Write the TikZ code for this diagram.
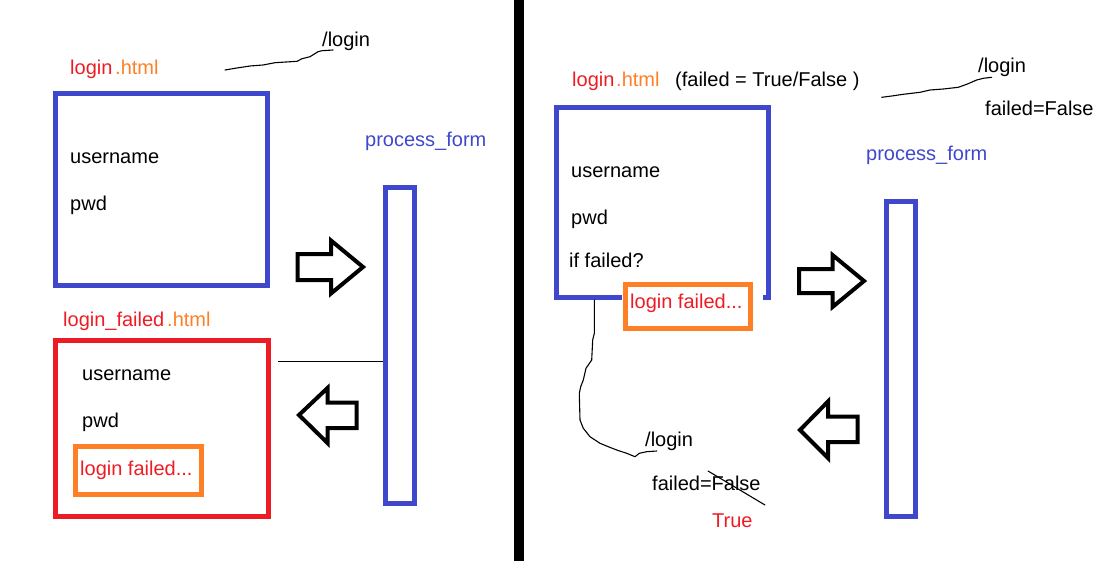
\documentclass[tikz,border=0pt]{standalone}
\usepackage{fontspec}
\setmainfont{Liberation Sans}
\definecolor{pblue}{HTML}{3F48CC}
\definecolor{pred}{HTML}{ED1C24}
\definecolor{porange}{HTML}{FF7F27}
\begin{document}
\begin{tikzpicture}[x=1pt,y=-1pt,
  txt/.style={inner sep=0pt, anchor=base west, font=\fontsize{20}{23}\selectfont},
  boxline/.style={line width=5pt, inner sep=0pt, line join=miter},
  arrowshape/.style={draw=black, line width=4pt, line join=miter},
  scribble/.style={line width=1.1pt, line join=round, line cap=round}]
\useasboundingbox (0,0) rectangle (1120,565);

% ---------------- left half ----------------
\node[txt, text=pred] (lname) at (70,74.5) {login};
\node[txt, text=porange] (lhtml) at (115,74.5) {.html};
\node[txt] (lurl) at (322,46.5) {/login};
\coordinate (lcurveA) at (225,70);
\coordinate (lcurveB) at (333,50);
\draw[scribble] (lcurveA) -- (235,68.3) -- (250,66) -- (263,65) -- (275,62.7) -- (297,61.3) -- (302,58.7) -- (310,56.7) -- (318,51.7) -- (322,50.7) -- (lcurveB);

\node[draw=pblue, boxline, minimum width=212.5pt, minimum height=191.5pt] (lform) at (161.25,189.25) {};
\node[txt] (luser) at (70,163.5) {username};
\node[txt] (lpwd) at (70,210.5) {pwd};

\node[txt, text=pblue] (lproc) at (365,146.5) {process\_form};
\node[draw=pblue, boxline, minimum width=29pt, minimum height=316pt] (lbar) at (399.5,345.5) {};

\draw[arrowshape] (297.5,254) -- (331,254) -- (331,240.5) -- (363,267) -- (331,293.5) -- (331,280) -- (297.5,280) -- cycle;
\draw[arrowshape] (356.5,402.5) -- (327.5,402.5) -- (327.5,388) -- (299,415) -- (327.5,443) -- (327.5,428) -- (356.5,428) -- cycle;

\coordinate (lthinA) at (278,361);
\draw[line width=1pt] (lthinA) -- (lbar.west |- lthinA);

\node[txt, text=pred] (lfname) at (63,326.5) {login\_failed};
\node[txt, text=porange] (lfhtml) at (167,326.5) {.html};
\node[draw=pred, boxline, minimum width=213.5pt, minimum height=176pt] (lfail) at (161.75,428) {};
\node[txt] (lfuser) at (82,380.5) {username};
\node[txt] (lfpwd) at (82,427.5) {pwd};
\node[draw=porange, boxline, minimum width=126.5pt, minimum height=47.5pt] (lmsgbox) at (138.25,470.25) {};
\node[txt, text=pred] (lmsg) at (80,475.5) {login failed...};

% ---------------- divider ----------------
\fill[black] (514,0) rectangle (524,561);

% ---------------- right half ----------------
\node[txt, text=pred] (rname) at (572,86.5) {login};
\node[txt, text=porange] (rhtml) at (616,86.5) {.html};
\node[txt] (rparam) at (675,86.5) {(failed = True/False )};

\node[txt] (rurl) at (978,72.5) {/login};
\node[txt] (rfalse) at (985,115.5) {failed=False};
\coordinate (rcurveA) at (881.7,97.3);
\coordinate (rcurveB) at (991.7,77.3);
\draw[scribble] (rcurveA) -- (891.7,96) -- (903.3,94.3) -- (920,92.3) -- (930,90) -- (943.3,89) -- (958.3,87.3) -- (966.7,84.3) -- (976.7,80) -- (983.3,78.3) -- (rcurveB);

\coordinate (rform) at (662,202.5);
\draw[pblue, line width=5pt, line join=miter] (621.7,297.5) -- (556.5,297.5) -- (556.5,107.5) -- (768,107.5) -- (768,297.5) -- (763,297.5);
\node[txt] (ruser) at (571,177.5) {username};
\node[txt] (rpwd) at (571,224.5) {pwd};
\node[txt] (rif) at (569,267.5) {if failed?};
\node[draw=porange, boxline, minimum width=125.5pt, minimum height=44pt] (rmsgbox) at (687.75,306) {};
\node[txt, text=pred] (rmsg) at (630,308.5) {login failed...};

\node[txt, text=pblue] (rproc) at (866,160.5) {process\_form};
\node[draw=pblue, boxline, minimum width=28.5pt, minimum height=314.5pt] (rbar) at (900.75,358.75) {};

\draw[arrowshape] (799,269) -- (832.5,269) -- (832.5,255) -- (864,281) -- (832.5,307) -- (832.5,293) -- (799,293) -- cycle;
\draw[arrowshape] (857.5,416.5) -- (828,416.5) -- (828,401.5) -- (800,430) -- (828,458) -- (828,442) -- (857.5,442) -- cycle;

\node[txt] (rburl) at (645,446.5) {/login};
\node[txt] (rbfalse) at (652,490.5) {failed=False};
\node[txt, text=pred] (rtrue) at (712,527.5) {True};
\coordinate (rbcurveA) at (594.3,300);
\coordinate (rbcurveB) at (656.7,451);
\draw[scribble] (rbcurveA) -- (594.3,333.3) -- (592.7,340) -- (591.7,360) -- (586,368.3) -- (583.3,380) -- (580.7,386.7) -- (579.3,393.3) -- (580,420) -- (583.3,428.3) -- (590,436.7) -- (600,443.3) -- (608.3,446.7) -- (616.7,450) -- (626.7,453.3) -- (635,456.7) -- (639.3,453.3) -- (646.7,451.7) -- (rbcurveB);
\coordinate (strikeA) at (708,471);
\coordinate (strikeB) at (765,505);
\draw[scribble] (strikeA) -- (strikeB);
\end{tikzpicture}
\end{document}
